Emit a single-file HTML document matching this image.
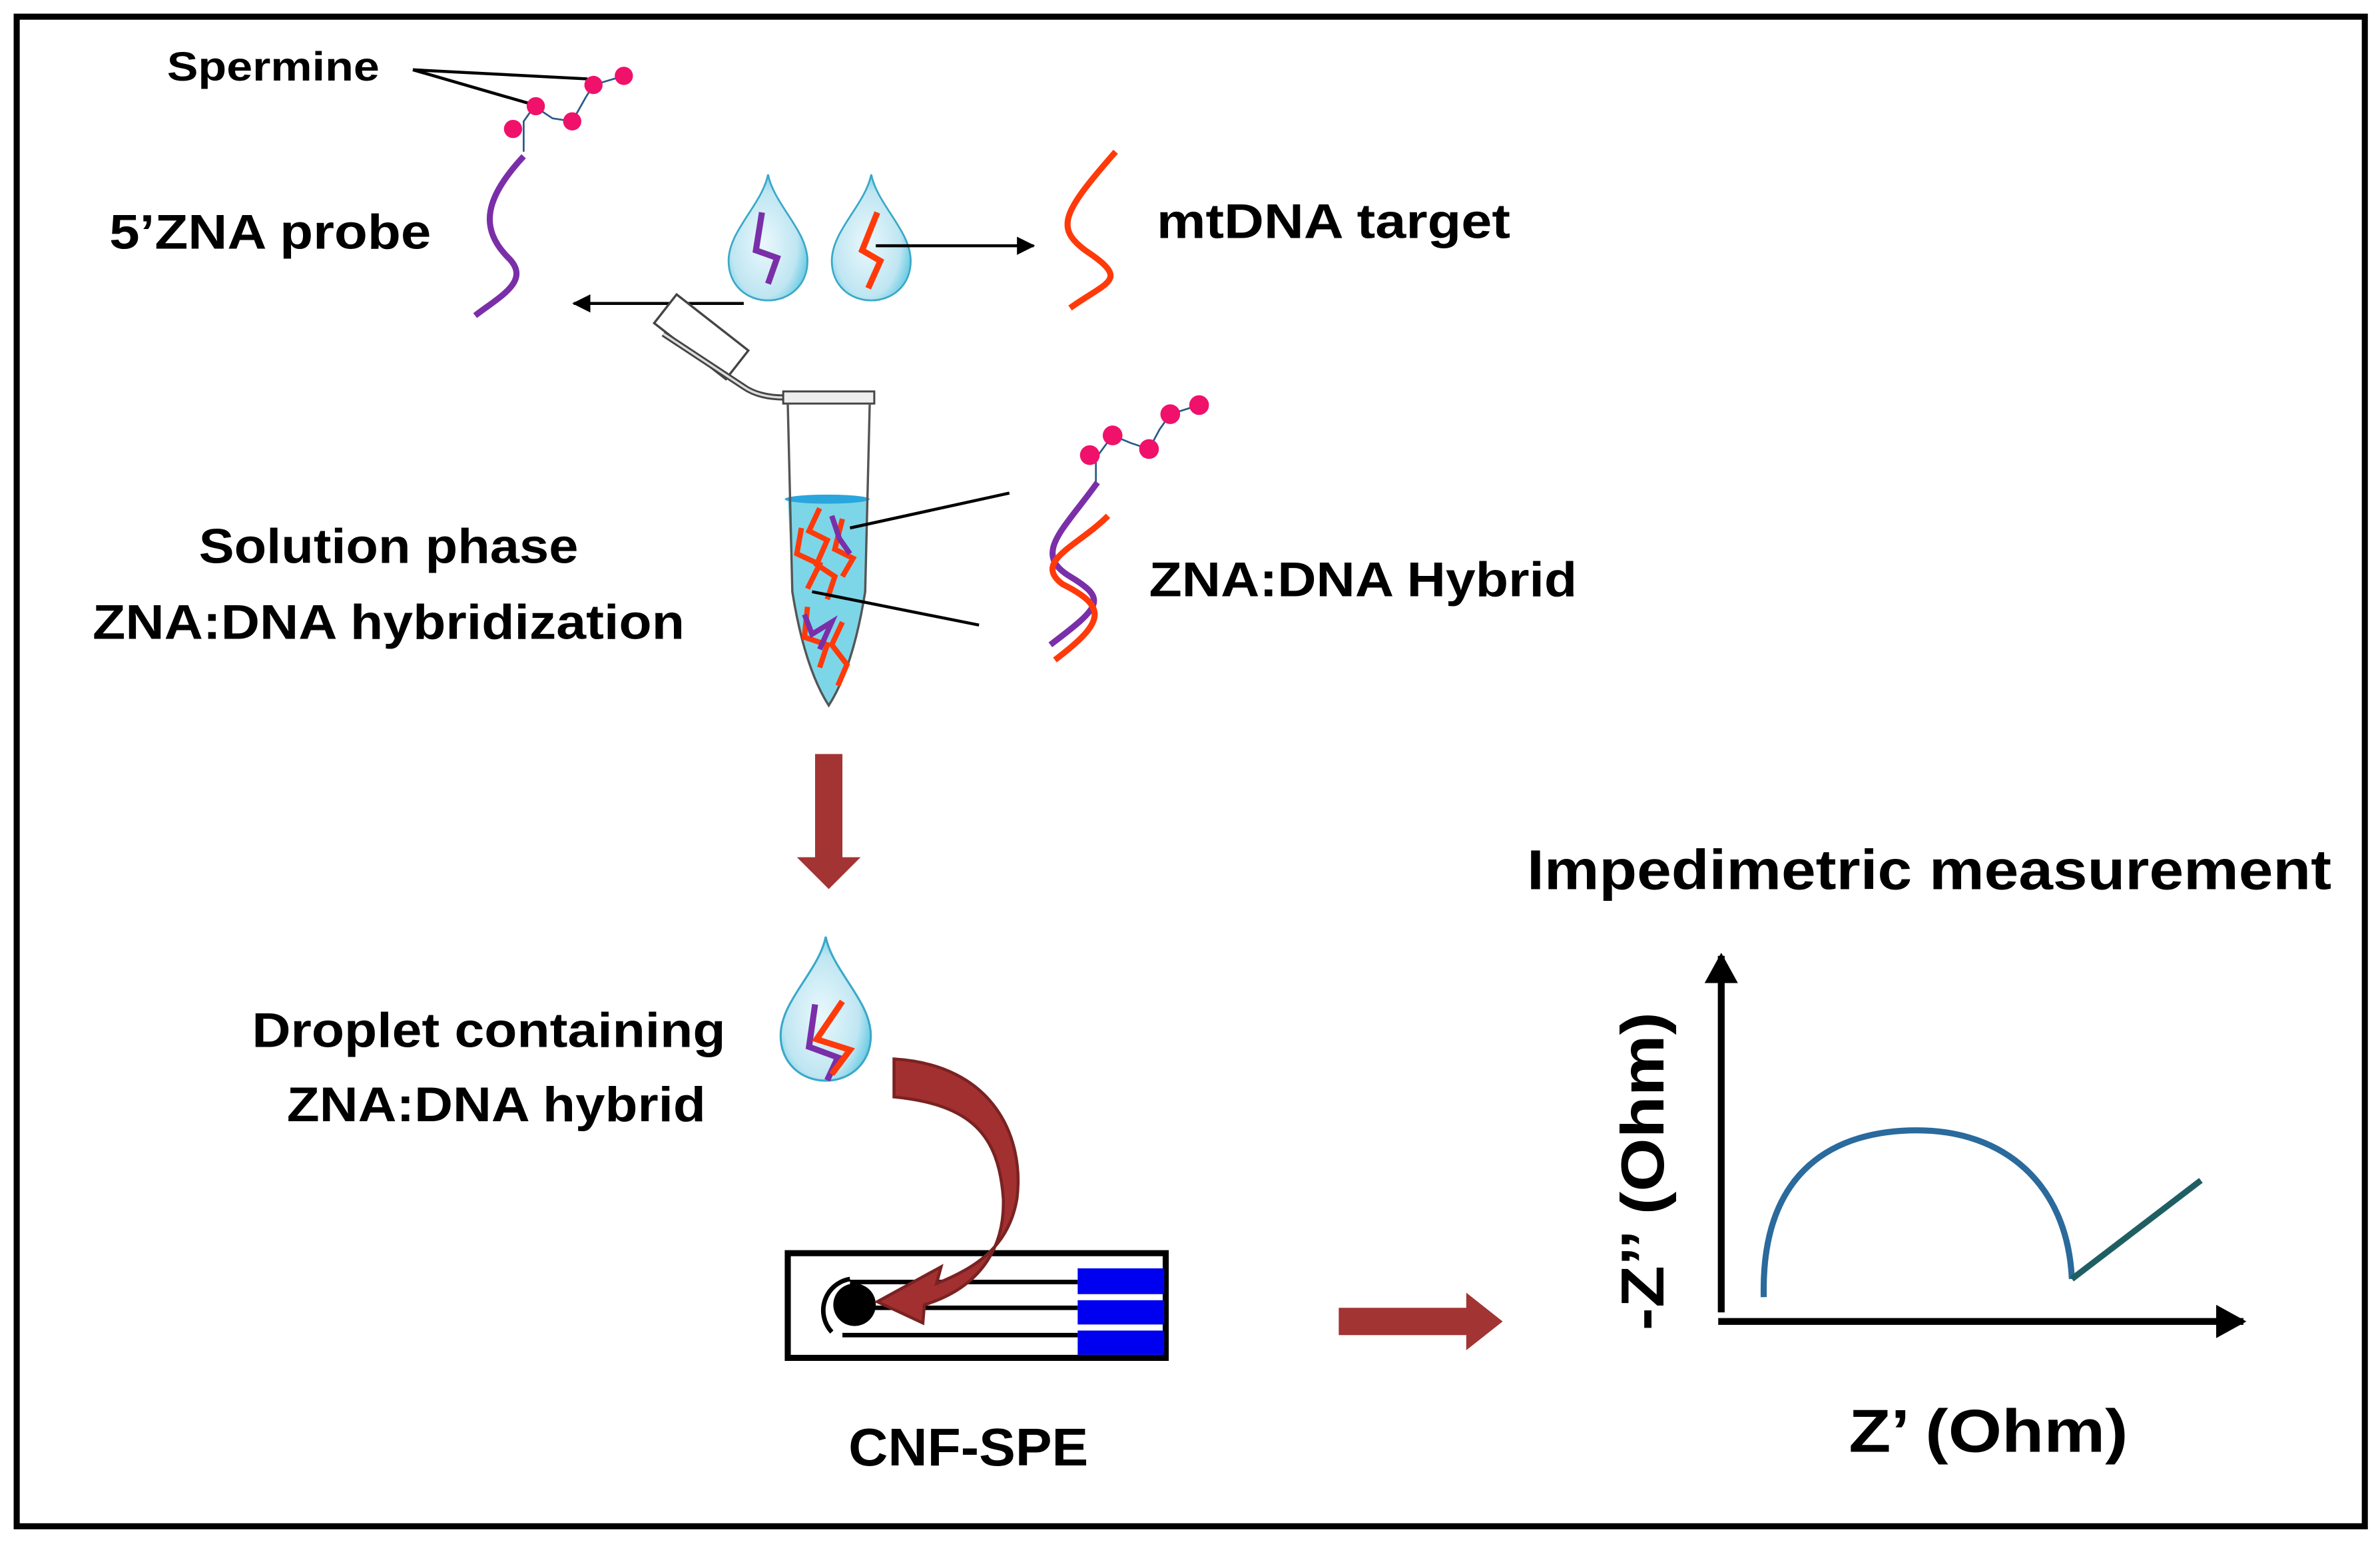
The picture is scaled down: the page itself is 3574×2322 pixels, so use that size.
<!DOCTYPE html>
<html><head><meta charset="utf-8"><style>
html,body{margin:0;padding:0;background:#fff;}
svg{display:block;}
text{font-family:"Liberation Sans",sans-serif;font-weight:bold;fill:#000;}
</style></head><body>
<svg width="3574" height="2322" viewBox="0 0 1568 1019" preserveAspectRatio="none" xmlns="http://www.w3.org/2000/svg">
<defs>
<radialGradient id="dg" cx="0.45" cy="0.55" r="0.6">
<stop offset="0" stop-color="#eaf8fc"/><stop offset="0.7" stop-color="#bfe6f2"/><stop offset="1" stop-color="#5cc6e2"/>
</radialGradient>
<marker id="ah" markerWidth="12" markerHeight="12" refX="11" refY="6" orient="auto" markerUnits="userSpaceOnUse">
<path d="M0,0 L12,6 L0,12 z" fill="#000"/></marker>
<marker id="ah2" markerWidth="22" markerHeight="22" refX="18" refY="11" orient="auto" markerUnits="userSpaceOnUse">
<path d="M0,0 L20,11 L0,22 z" fill="#000"/></marker>
<symbol id="drop" viewBox="-28 -45 56 85" overflow="visible">
<path d="M0,-45 C4,-25 26,-8 26,12 C26,28 14,38 0,38 C-14,38 -26,28 -26,12 C-26,-8 -4,-25 0,-45 z" fill="url(#dg)" stroke="#3aa8c8" stroke-width="1.2"/>
</symbol>
</defs>
<rect x="11" y="11" width="1547" height="995" fill="#fff" stroke="#000" stroke-width="4"/>

<text x="110" y="53" font-size="27" textLength="140" lengthAdjust="spacingAndGlyphs">Spermine</text>
<line x1="272" y1="46" x2="387" y2="52" stroke="#000" stroke-width="2"/>
<line x1="272" y1="46" x2="348" y2="68" stroke="#000" stroke-width="2"/>
<path d="M345,100 L345,80 L352,70 L364,78 L377,80 L386,64 L391,56 L411,50" fill="none" stroke="#2a5a8a" stroke-width="1.2"/>
<g fill="#f0116a"><circle cx="338" cy="85" r="6"/><circle cx="353" cy="70" r="6"/><circle cx="377" cy="80" r="6"/><circle cx="391" cy="56" r="6"/><circle cx="411" cy="50" r="6"/></g>
<path d="M345,103 C320,130 315,150 335,170 C350,185 330,195 313,208" fill="none" stroke="#7a2fa8" stroke-width="4"/>
<text x="72" y="164" font-size="32" textLength="212" lengthAdjust="spacingAndGlyphs">5’ZNA probe</text>

<use href="#drop" x="478" y="115" width="56" height="85"/>
<use href="#drop" x="546" y="115" width="56" height="85"/>
<path d="M502,140 L498,165 L512,170 L506,187" fill="none" stroke="#7a2fa8" stroke-width="4"/>
<path d="M578,140 L568,165 L580,172 L572,190" fill="none" stroke="#ff3a0a" stroke-width="4"/>
<line x1="490" y1="200" x2="378" y2="200" stroke="#000" stroke-width="2" marker-end="url(#ah)"/>
<line x1="577" y1="162" x2="681" y2="162" stroke="#000" stroke-width="2" marker-end="url(#ah)"/>
<path d="M735,100 C700,140 695,150 715,165 C745,185 730,185 705,203" fill="none" stroke="#ff3a0a" stroke-width="4"/>
<text x="762" y="157" font-size="32" textLength="233" lengthAdjust="spacingAndGlyphs">mtDNA target</text>

<g transform="rotate(38 462 222)"><rect x="432" y="210" width="60" height="24" fill="#fff" stroke="#444" stroke-width="1.5"/></g>
<path d="M437,220 L490,255 Q500,262 517,262" fill="none" stroke="#444" stroke-width="4"/>
<path d="M437,220 L490,255 Q500,262 517,262" fill="none" stroke="#ddd" stroke-width="1.5"/>
<rect x="516" y="258" width="60" height="8" fill="#eee" stroke="#444" stroke-width="1.3"/>
<path d="M519,328 L572,328 L570,390 Q562,440 546,465 Q530,440 522,390 z" fill="#7dd6e8"/>
<ellipse cx="545" cy="329" rx="28" ry="3" fill="#2aa6dc"/>
<path d="M519,266 L522,390 Q530,440 546,465 Q562,440 570,390 L573,266" fill="none" stroke="#555" stroke-width="1.5"/>
<path d="M540,335 L533,350 L545,356 L538,372 L550,380 L545,395 M528,348 L525,365 L540,372 L532,388 M555,342 L550,362 L562,368 L555,380 M532,400 L530,420 L545,425 L540,440 M555,410 L548,425 L558,438 L552,452" fill="none" stroke="#ff3a0a" stroke-width="3.5"/>
<path d="M548,340 L553,355 L560,365 M530,405 L535,418 L548,410 L540,428" fill="none" stroke="#7a2fa8" stroke-width="3.5"/>
<line x1="560" y1="348" x2="665" y2="325" stroke="#000" stroke-width="2"/>
<line x1="535" y1="390" x2="645" y2="412" stroke="#000" stroke-width="2"/>

<path d="M722,318 L722,302 L733,287 L745,292 L757,296 L764,283 L771,273 L790,267" fill="none" stroke="#2a5a8a" stroke-width="1.2"/>
<g fill="#f0116a"><circle cx="718" cy="300" r="6.5"/><circle cx="733" cy="287" r="6.5"/><circle cx="757" cy="296" r="6.5"/><circle cx="771" cy="273" r="6.5"/><circle cx="790" cy="267" r="6.5"/></g>
<path d="M723,318 C700,350 680,365 705,380 C730,395 725,400 692,425" fill="none" stroke="#7a2fa8" stroke-width="4"/>
<path d="M730,340 C710,360 680,370 700,385 C730,400 728,410 695,435" fill="none" stroke="#ff3a0a" stroke-width="4"/>
<text x="757" y="393" font-size="32" textLength="282" lengthAdjust="spacingAndGlyphs">ZNA:DNA Hybrid</text>

<text x="256" y="371" font-size="32" text-anchor="middle" textLength="250" lengthAdjust="spacingAndGlyphs">Solution phase</text>
<text x="256" y="421" font-size="32" text-anchor="middle" textLength="390" lengthAdjust="spacingAndGlyphs">ZNA:DNA hybridization</text>

<path d="M537,497 L555,497 L555,565 L567,565 L546,586 L525,565 L537,565 z" fill="#a33434"/>

<use href="#drop" x="512" y="613" width="64" height="106"/>
<path d="M537,662 L533,690 L552,697 L545,712" fill="none" stroke="#7a2fa8" stroke-width="4"/>
<path d="M555,660 L538,685 L560,692 L548,708" fill="none" stroke="#ff3a0a" stroke-width="4"/>
<text x="322" y="690" font-size="32" text-anchor="middle" textLength="312" lengthAdjust="spacingAndGlyphs">Droplet containing</text>
<text x="327" y="739" font-size="32" text-anchor="middle" textLength="276" lengthAdjust="spacingAndGlyphs">ZNA:DNA hybrid</text>

<rect x="519" y="826" width="249" height="69" fill="#fff" stroke="#000" stroke-width="4"/>
<line x1="560" y1="845" x2="710" y2="845" stroke="#000" stroke-width="3"/>
<line x1="570" y1="862" x2="710" y2="862" stroke="#000" stroke-width="3"/>
<line x1="555" y1="880" x2="710" y2="880" stroke="#000" stroke-width="3"/>
<path d="M560,843 A21,21 0 0 0 548,878" fill="none" stroke="#000" stroke-width="3"/>
<circle cx="563" cy="860" r="14" fill="#000"/>
<rect x="710" y="836" width="57" height="17" fill="#0000f0"/>
<rect x="710" y="857" width="57" height="16" fill="#0000f0"/>
<rect x="710" y="877" width="57" height="16" fill="#0000f0"/>
<path d="M589,698 C655,702 675,750 670,790 C665,820 645,835 617,846 L620,835 L578,858 L608,872 L609,860 C648,848 662,820 661,790 C658,748 640,728 589,723 z" fill="#a33030" stroke="#7a2222" stroke-width="2"/>
<text x="638" y="966" font-size="35" text-anchor="middle" textLength="158" lengthAdjust="spacingAndGlyphs">CNF-SPE</text>

<path d="M882,862 L966,862 L966,852 L990,871 L966,890 L966,880 L882,880 z" fill="#a33434"/>

<text x="1006" y="586" font-size="37" textLength="530" lengthAdjust="spacingAndGlyphs">Impedimetric measurement</text>
<line x1="1134" y1="865" x2="1134" y2="630" stroke="#000" stroke-width="4.5" marker-end="url(#ah2)"/>
<line x1="1132" y1="871" x2="1478" y2="871" stroke="#000" stroke-width="4.5" marker-end="url(#ah2)"/>
<text transform="translate(1096,772) rotate(-90)" font-size="40" text-anchor="middle" textLength="210" lengthAdjust="spacingAndGlyphs">-Z’’ (Ohm)</text>
<text x="1310" y="957" font-size="40" text-anchor="middle" textLength="184" lengthAdjust="spacingAndGlyphs">Z’ (Ohm)</text>
<path d="M1162,855 C1160,770 1210,745 1263,745 C1320,745 1362,780 1365,843" fill="none" stroke="#2a6a9c" stroke-width="4"/>
<line x1="1365" y1="843" x2="1450" y2="778" stroke="#1f5f63" stroke-width="4"/>
</svg>
</body></html>
